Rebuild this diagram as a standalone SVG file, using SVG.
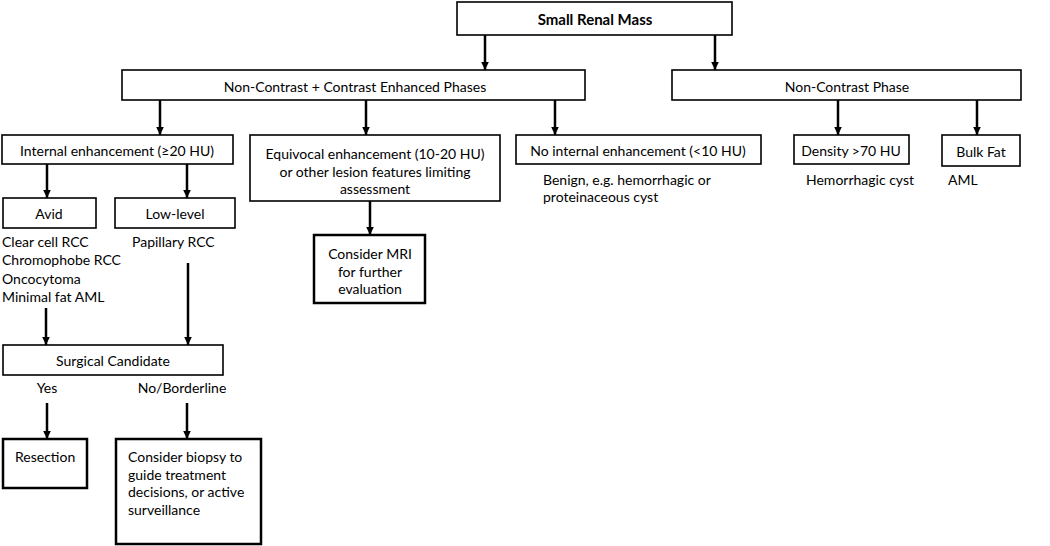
<svg xmlns="http://www.w3.org/2000/svg" width="1050" height="546" viewBox="0 0 1050 546">
<defs>
<marker id="ah" markerUnits="userSpaceOnUse" markerWidth="10" markerHeight="10" viewBox="0 0 10 10" refX="8" refY="5" orient="auto">
<path d="M0,1.2 L8,5 L0,8.8 Z" fill="#000"/>
</marker>
<style>
rect{fill:#fff;stroke:#000;stroke-width:1.6}
rect.thick{stroke-width:2.5}
text{font-family:Lato,"Liberation Sans",sans-serif;font-size:14px;fill:#000}
.c{text-anchor:middle}
.b{font-weight:bold;font-size:15px}
#connectors line{stroke:#000;stroke-width:2.5;marker-end:url(#ah)}
</style>
</defs>
<rect x="0" y="0" width="1050" height="546" style="fill:#fff;stroke:none"/>
<g id="connectors">
<line x1="485" y1="35" x2="485" y2="70"/>
<line x1="715" y1="35" x2="715" y2="70"/>
<line x1="160" y1="100" x2="160" y2="135"/>
<line x1="366" y1="100" x2="366" y2="135"/>
<line x1="555" y1="100" x2="555" y2="135"/>
<line x1="838" y1="100" x2="838" y2="135"/>
<line x1="977" y1="100" x2="977" y2="135"/>
<line x1="47" y1="164" x2="47" y2="198"/>
<line x1="187" y1="164" x2="187" y2="198"/>
<line x1="370" y1="201" x2="370" y2="235"/>
<line x1="46" y1="308" x2="46" y2="345"/>
<line x1="188" y1="263" x2="188" y2="345"/>
<line x1="47" y1="403" x2="47" y2="439"/>
<line x1="187" y1="403" x2="187" y2="439"/>
</g>
<g id="n-small-renal-mass">
<rect x="457" y="2" width="275" height="33"/>
<text class="c b" x="595" y="25">Small Renal Mass</text>
</g>
<g id="n-ncce">
<rect x="122" y="70" width="463" height="30"/>
<text class="c" x="355" y="92">Non-Contrast + Contrast Enhanced Phases</text>
</g>
<g id="n-ncp">
<rect x="672" y="70" width="349" height="30"/>
<text class="c" x="847" y="92">Non-Contrast Phase</text>
</g>
<g id="n-internal">
<rect x="2" y="135" width="231" height="29"/>
<text class="c" x="117" y="156">Internal enhancement (≥20 HU)</text>
</g>
<g id="n-equivocal">
<rect x="250" y="135" width="250" height="66"/>
<text class="c" x="375" y="159">Equivocal enhancement (10-20 HU)</text>
<text class="c" x="375" y="177">or other lesion features limiting</text>
<text class="c" x="375" y="194">assessment</text>
</g>
<g id="n-noint">
<rect x="516" y="135" width="245" height="29"/>
<text class="c" x="638" y="156">No internal enhancement (&lt;10 HU)</text>
<text x="543" y="185">Benign, e.g. hemorrhagic or</text>
<text x="543" y="202">proteinaceous cyst</text>
</g>
<g id="n-density">
<rect x="794" y="135" width="115" height="29"/>
<text class="c" x="851" y="156">Density &gt;70 HU</text>
<text x="806" y="185">Hemorrhagic cyst</text>
</g>
<g id="n-bulkfat">
<rect x="942" y="135" width="78" height="31"/>
<text class="c" x="981" y="157">Bulk Fat</text>
<text x="948" y="185">AML</text>
</g>
<g id="n-avid">
<rect x="3" y="198" width="93" height="30"/>
<text class="c" x="49" y="219">Avid</text>
<text x="2" y="247">Clear cell RCC</text>
<text x="2" y="265">Chromophobe RCC</text>
<text x="2" y="284">Oncocytoma</text>
<text x="2" y="302">Minimal fat AML</text>
</g>
<g id="n-lowlevel">
<rect x="115" y="198" width="120" height="30"/>
<text class="c" x="175" y="219">Low-level</text>
<text x="132" y="247">Papillary RCC</text>
</g>
<g id="n-mri">
<rect class="thick" x="314" y="235" width="111" height="68"/>
<text class="c" x="370" y="259">Consider MRI</text>
<text class="c" x="370" y="277">for further</text>
<text class="c" x="370" y="294">evaluation</text>
</g>
<g id="n-surgical">
<rect x="3" y="345" width="220" height="30"/>
<text class="c" x="113" y="366">Surgical Candidate</text>
<text class="c" x="47" y="393">Yes</text>
<text class="c" x="182" y="393">No/Borderline</text>
</g>
<g id="n-resection">
<rect class="thick" x="3" y="439" width="84" height="49"/>
<text x="15" y="462">Resection</text>
</g>
<g id="n-biopsy">
<rect class="thick" x="116" y="439" width="145" height="105"/>
<text x="128" y="462">Consider biopsy to</text>
<text x="128" y="480">guide treatment</text>
<text x="128" y="497">decisions, or active</text>
<text x="128" y="515">surveillance</text>
</g>
</svg>
